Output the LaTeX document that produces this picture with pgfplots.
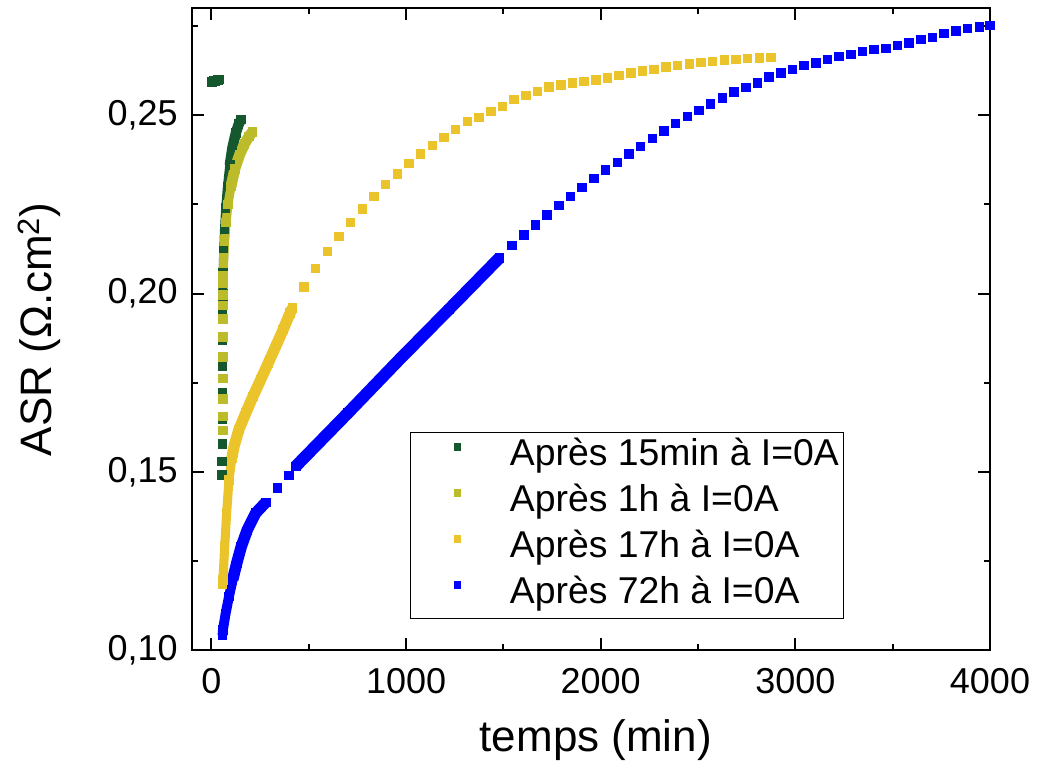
\documentclass[border=0pt]{standalone}
\usepackage{fontspec}
\setmainfont{Liberation Sans}
\usepackage{pgfplots}
\usepackage{pgfplotstable}
\pgfplotsset{compat=1.18}
\definecolor{cgreen}{RGB}{22,88,46}
\definecolor{colive}{RGB}{188,188,42}
\definecolor{cyellow}{RGB}{235,195,42}
\definecolor{cblue}{RGB}{0,0,255}
% dense (quasi-continuous) parts of each series, split where the slope changes
\pgfplotstableread{
x y
58 0.2000
60 0.2060
63 0.2120
67 0.2180
73 0.2240
82 0.2300
94 0.2360
}\greendenseA
\pgfplotstableread{
x y
94 0.2360
108 0.2410
125 0.2450
140 0.2475
152 0.2488
}\greendenseB
\pgfplotstableread{
x y
60 0.2049
63 0.2100
68 0.2150
75 0.2200
85 0.2250
100 0.2300
}\olivedenseA
\pgfplotstableread{
x y
100 0.2300
120 0.2350
145 0.2390
170 0.2420
192 0.2440
210 0.2453
}\olivedenseB
\pgfplotstableread{
x y
57 0.1187
59 0.1198
68 0.1291
78 0.1385
90 0.1478
105 0.1540
}\yellowdenseA
\pgfplotstableread{
x y
105 0.1540
116 0.1572
141 0.1619
176 0.1665
213 0.1712
253 0.1759
292 0.1806
330 0.1852
368 0.1899
404 0.1946
416 0.1960
}\yellowdenseB
\pgfplotstableread{
x y
57 0.1043
59 0.1058
73 0.1104
90 0.1151
109 0.1198
}\bluedenseA
\pgfplotstableread{
x y
109 0.1198
130 0.1245
153 0.1291
184 0.1338
227 0.1385
279 0.1415
}\bluedenseB
\pgfplotstableread{
x y
433 0.1516
700 0.1665
956 0.1810
1220 0.1956
1479 0.2100
}\bluedenseC
\pgfplotsset{
  dense/.style={line width=#1, line join=round, line cap=butt, forget plot,
    mark=square*, mark size=3.2pt, mark options={line width=0pt, solid}},
  sparse/.style={only marks, mark=square*, mark size=3.2pt, mark options={line width=0pt}},
}
\begin{document}
\begin{tikzpicture}
\begin{axis}[
  scale only axis,
  width=598.5pt, height=481.65pt,
  xmin=-100, xmax=4000, ymin=0.10, ymax=0.28,
  xtick={0,1000,2000,3000,4000},
  minor xtick={500,1500,2500,3500},
  ytick={0.10,0.15,0.20,0.25},
  minor ytick={0.125,0.175,0.225,0.275},
  scaled x ticks=false, scaled y ticks=false,
  tick align=inside,
  major tick length=9pt, minor tick length=4.5pt,
  every tick/.style={line width=1.5pt, black},
  axis line style={line width=1.5pt},
  /pgf/number format/assume math mode=true,
  ticklabel style={font=\fontsize{27}{32}\selectfont},
  xticklabel style={inner xsep=0pt, inner ysep=13pt, /pgf/number format/1000 sep={}},
  yticklabel style={inner xsep=10.5pt, inner ysep=0pt, /pgf/number format/.cd, fixed, fixed zerofill, precision=2, use comma},
  xlabel={temps (min)},
  ylabel={ASR (Ω.cm\textsuperscript{2})},
  label style={font=\fontsize{33}{38}\selectfont},
  xlabel style={at={([yshift=-52pt]rel axis cs:0.506,0)}, anchor=north, inner sep=0pt},
  ylabel style={at={([xshift=-131pt]rel axis cs:0,0.5)}, anchor=north, inner sep=0pt},
  legend style={at={(rel axis cs:0.2732,0.3402)}, anchor=north west,
    draw=black, line width=0.8pt,
    font=\fontsize{28}{33}\selectfont,
    inner xsep=3.75pt, inner ysep=5pt,
    row sep=8.5pt, column sep=8pt,
    nodes={inner sep=0pt, text height=20pt, text depth=6pt}},
  legend cell align=left,
  legend image code/.code={\path (0pt,0pt) (62pt,0pt); \draw[#1, mark size=2.5pt, mark options={line width=0pt}] plot coordinates {(31pt,7pt)};},
]
% ---------- 15 min (dark green)
\addplot[cgreen, dense=6.8pt] table {\greendenseA};
\addplot[cgreen, dense=7.8pt] table {\greendenseB};
\addplot[cgreen, sparse] coordinates {
(3,0.2594) (8,0.2595) (13,0.2596) (18,0.2596) (23,0.2597) (28,0.2598) (33,0.2599) (38,0.2600)
(55,0.1492) (55,0.1530) (56,0.1579) (56,0.1647) (56,0.1721) (57,0.1796) (57,0.1869) (57,0.1941) (58,0.1990)
};
\addlegendentry{Après 15min à I=0A}
% ---------- 1 h (olive)
\addplot[colive, dense=6.8pt] table {\olivedenseA};
\addplot[colive, dense=8.2pt] table {\olivedenseB};
\addplot[colive, sparse] coordinates {
(58,0.1617) (58,0.1656) (58,0.1705) (58,0.1762) (59,0.1822) (59,0.1879) (59,0.1929) (59,0.1967) (59,0.1997) (60,0.2028)
};
\addlegendentry{Après 1h à I=0A}
% ---------- 17 h (yellow)
\addplot[cyellow, dense=6.8pt] table {\yellowdenseA};
\addplot[cyellow, dense=8.4pt] table {\yellowdenseB};
\addplot[cyellow, sparse] coordinates {
(475,0.2019) (535,0.2071) (595,0.2118) (655,0.2160) (715,0.2199) (775,0.2238) (835,0.2272) (895,0.2306) (955,0.2336) (1015,0.2365)
(1075,0.2391) (1135,0.2415) (1195,0.2438) (1255,0.2460) (1315,0.2482) (1375,0.2494) (1435,0.2511) (1495,0.2525) (1555,0.2544) (1615,0.2556)
(1675,0.2567) (1735,0.2580) (1795,0.2585) (1855,0.2590) (1915,0.2595) (1975,0.2599) (2035,0.2604) (2095,0.2612) (2155,0.2618) (2215,0.2624)
(2275,0.2629) (2335,0.2636) (2395,0.2640) (2455,0.2644) (2515,0.2648) (2575,0.2651) (2635,0.2655) (2695,0.2657) (2755,0.2659) (2815,0.2661) (2875,0.2662)
};
\addlegendentry{Après 17h à I=0A}
% ---------- 72 h (blue)
\addplot[cblue, dense=7.4pt] table {\bluedenseA};
\addplot[cblue, dense=8.6pt] table {\bluedenseB};
\addplot[cblue, dense=9pt] table {\bluedenseC};
\addplot[cblue, sparse] coordinates {
(339,0.1455) (399,0.1490)
(1545,0.2135) (1605,0.2164) (1665,0.2193) (1725,0.2220) (1785,0.2247) (1845,0.2273) (1905,0.2297) (1965,0.2323) (2025,0.2346) (2085,0.2368)
(2145,0.2391) (2205,0.2413) (2265,0.2435) (2325,0.2456) (2385,0.2477) (2445,0.2496) (2505,0.2514) (2565,0.2532) (2625,0.2549) (2685,0.2565)
(2745,0.2578) (2805,0.2591) (2865,0.2607) (2925,0.2619) (2985,0.2628) (3045,0.2640) (3105,0.2647) (3165,0.2656) (3225,0.2665) (3285,0.2671)
(3345,0.2679) (3405,0.2684) (3465,0.2687) (3525,0.2696) (3585,0.2703) (3645,0.2712) (3705,0.2718) (3765,0.2729) (3825,0.2736) (3885,0.2743)
(3945,0.2747) (4000,0.2752)
};
\addlegendentry{Après 72h à I=0A}
\end{axis}
\pgfresetboundingbox
\path[use as bounding box] (current axis.south west) ++(-144pt,-84.4pt) rectangle ([shift={(36pt,6.2pt)}]current axis.north east);
\end{tikzpicture}
\end{document}
